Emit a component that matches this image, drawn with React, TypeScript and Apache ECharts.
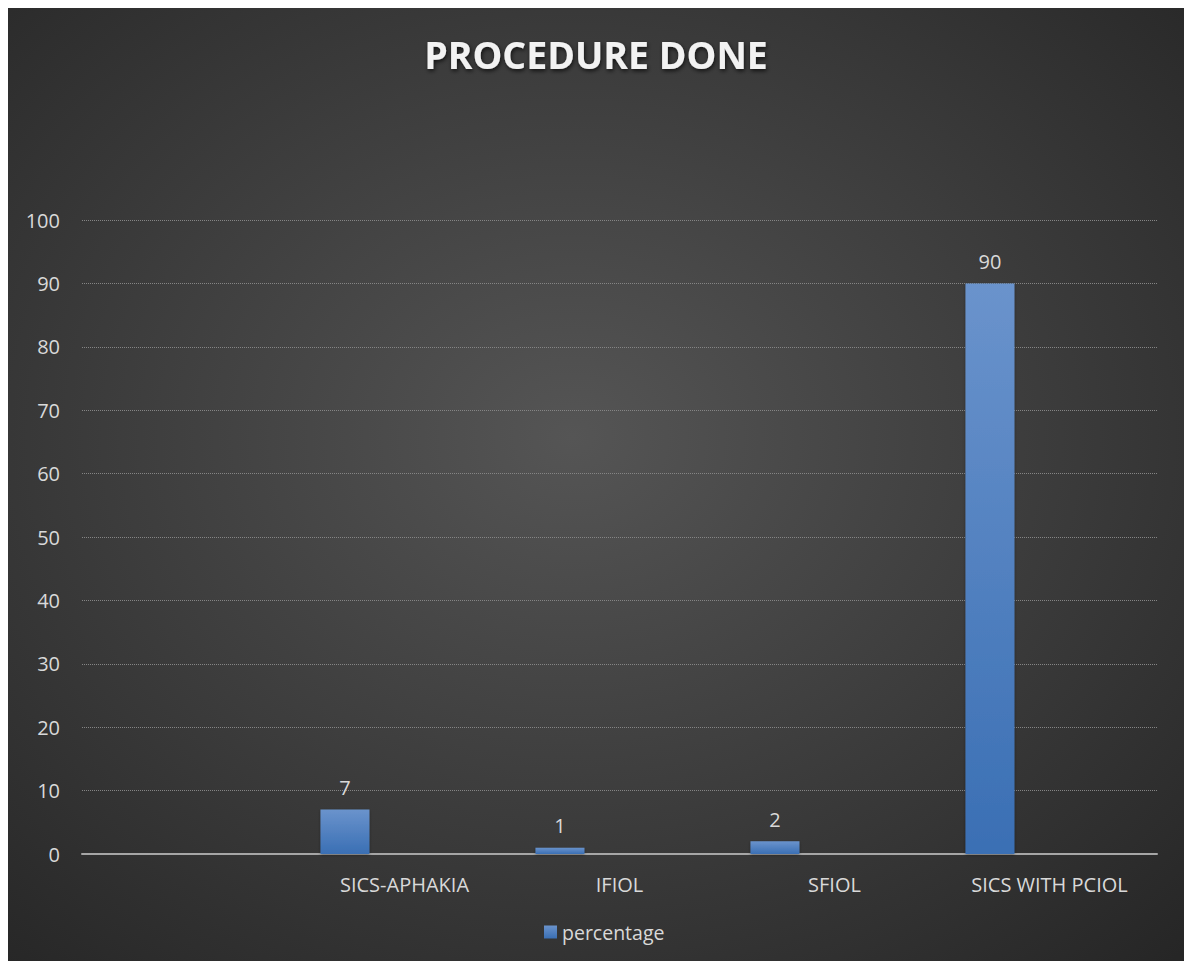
import React, { useEffect, useRef } from "react";
import * as echarts from "echarts";

const categories = ["", "SICS-APHAKIA", "IFIOL", "SFIOL", "SICS WITH PCIOL"];
const percentage: (number | string)[] = ["-", 7, 1, 2, 90];
const spacer: (number | string)[] = ["-", "-", "-", "-", "-"];
const yTicks = { min: 0, max: 100, interval: 10 };

const FONT = "'Open Sans', 'Noto Sans', sans-serif";
const LABEL_COLOR = "#d9d9d9";

export default function App() {
  const ref = useRef<HTMLDivElement>(null);

  useEffect(() => {
    if (!ref.current) return;
    const chart = echarts.init(ref.current, null, { renderer: "svg" });
    chart.setOption({
      animation: false,
      backgroundColor: {
        type: "radial",
        x: 0.48,
        y: 0.45,
        r: 0.75,
        colorStops: [
          { offset: 0, color: "#555555" },
          { offset: 1, color: "#262626" },
        ],
      },
      title: {
        text: "PROCEDURE DONE",
        left: "center",
        top: 22,
        textStyle: {
          fontFamily: FONT,
          fontWeight: "bold",
          fontSize: 37.5,
          color: "#f2f2f2",
          textShadowColor: "rgba(0,0,0,0.7)",
          textShadowBlur: 4,
          textShadowOffsetX: 1,
          textShadowOffsetY: 2,
        },
      },
      grid: { left: 74, right: 27, top: 212, bottom: 107, containLabel: false },
      legend: {
        data: ["percentage"],
        bottom: 14,
        left: 531,
        icon: "rect",
        itemWidth: 13,
        itemHeight: 13,
        itemGap: 6,
        textStyle: { fontFamily: FONT, fontSize: 19.5, color: LABEL_COLOR },
      },
      xAxis: {
        type: "category",
        data: categories,
        axisLine: { lineStyle: { color: "#a6a6a6", width: 2 } },
        axisTick: { show: false },
        axisLabel: {
          fontFamily: FONT,
          fontSize: 20,
          color: LABEL_COLOR,
          margin: 20,
          interval: 0,
        },
        splitLine: { show: false },
      },
      yAxis: {
        type: "value",
        min: yTicks.min,
        max: yTicks.max,
        interval: yTicks.interval,
        axisLine: { show: false },
        axisTick: { show: false },
        axisLabel: { fontFamily: FONT, fontSize: 20, color: LABEL_COLOR, margin: 22 },
        splitLine: { lineStyle: { color: "#858585", type: [1, 1], width: 1 } },
      },
      series: [
        {
          name: "percentage",
          type: "bar",
          data: percentage,
          barWidth: 49,
          barGap: "143%",
          itemStyle: {
            color: {
              type: "linear",
              x: 0,
              y: 0,
              x2: 0,
              y2: 1,
              colorStops: [
                { offset: 0, color: "#6a93cc" },
                { offset: 1, color: "#3a6fb4" },
              ],
            },
            shadowColor: "rgba(0,0,0,0.35)",
            shadowBlur: 3,
            shadowOffsetY: 1,
          },
          label: {
            show: true,
            position: "top",
            distance: 12,
            fontFamily: FONT,
            fontSize: 20,
            color: LABEL_COLOR,
          },
        },
        {
          name: "spacer",
          type: "bar",
          data: spacer,
          barWidth: 49,
        },
      ],
    });
    return () => chart.dispose();
  }, []);

  return <div ref={ref} style={{ width: 1176, height: 953 }} />;
}
